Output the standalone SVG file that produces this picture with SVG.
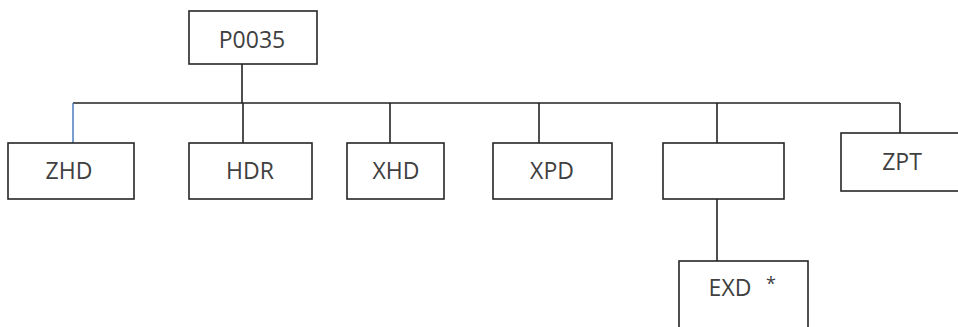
<svg xmlns="http://www.w3.org/2000/svg" width="958" height="327" viewBox="0 0 958 327">
<style>
.box{fill:#fff;stroke:#262626;stroke-width:1.6}
.lbl{font-family:"Open Sans","Liberation Sans",sans-serif;font-size:23px;fill:#404040;text-anchor:middle}
.ln{stroke:#222;stroke-width:1.6;fill:none}
</style>
<rect width="958" height="327" fill="#fff"/>
<g id="connectors">
<line class="ln" x1="242" y1="64" x2="242" y2="103"/>
<line class="ln" x1="73" y1="103" x2="900" y2="103"/>
<line x1="73" y1="103" x2="73" y2="143" stroke="#4a7ebb" stroke-width="1.5"/>
<line class="ln" x1="243" y1="103" x2="243" y2="143"/>
<line class="ln" x1="390" y1="103" x2="390" y2="143"/>
<line class="ln" x1="539" y1="103" x2="539" y2="143"/>
<line class="ln" x1="717" y1="103" x2="717" y2="143"/>
<line class="ln" x1="900" y1="103" x2="900" y2="133"/>
<line class="ln" x1="717" y1="199" x2="717" y2="261"/>
</g>
<g id="P0035"><rect class="box" x="189" y="11" width="128" height="53"/><text class="lbl" x="252" y="48">P0035</text></g>
<g id="ZHD"><rect class="box" x="8" y="143" width="126" height="56"/><text class="lbl" x="69" y="179">ZHD</text></g>
<g id="HDR"><rect class="box" x="189" y="143" width="123" height="56"/><text class="lbl" x="250" y="179">HDR</text></g>
<g id="XHD"><rect class="box" x="347" y="143" width="97" height="56"/><text class="lbl" x="396" y="179">XHD</text></g>
<g id="XPD"><rect class="box" x="493" y="143" width="119" height="56"/><text class="lbl" x="552" y="179">XPD</text></g>
<g id="blank"><rect class="box" x="663" y="143" width="121" height="56"/></g>
<g id="ZPT"><rect class="box" x="841" y="133" width="125" height="58"/><text class="lbl" x="902" y="170">ZPT</text></g>
<g id="EXD"><rect class="box" x="679" y="261" width="129" height="80"/><text class="lbl" x="730" y="296">EXD</text><text class="lbl" x="771" y="290" style="font-size:18px">*</text></g>
</svg>
